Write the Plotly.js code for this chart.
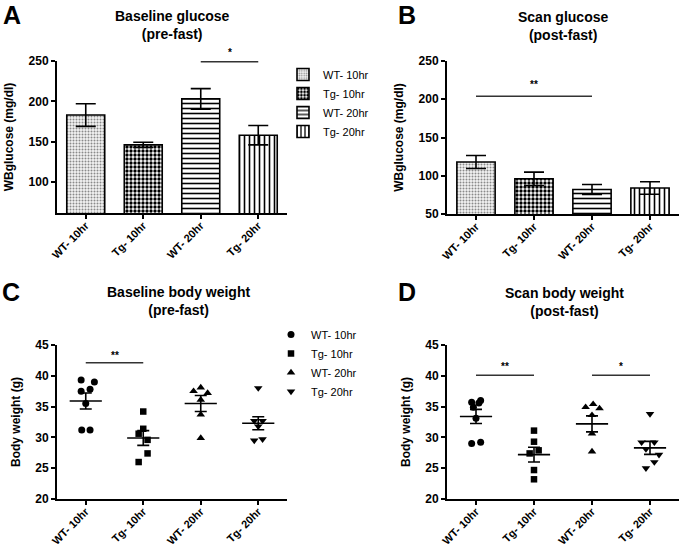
<!DOCTYPE html>
<html>
<head>
<meta charset="utf-8">
<script src="https://cdn.plot.ly/plotly-3.0.1.min.js"></script>
<style>html,body{margin:0;padding:0;background:#fff;}#chart{width:680px;height:547px;}</style>
</head>
<body>
<div id="chart"></div>
<script>
// ---------- DATA ----------
const groups = ['WT- 10hr', 'Tg- 10hr', 'WT- 20hr', 'Tg- 20hr'];

// Panel A: Baseline glucose (pre-fast), mean and SEM
const glucoseBaseMean = [183, 146, 203, 158];
const glucoseBaseSem  = [14, 3.3, 12.8, 12];
// Panel B: Scan glucose (post-fast)
const glucoseScanMean = [118, 96, 82, 84];
const glucoseScanSem  = [8.5, 8.7, 6.5, 8.2];

// Panel C: Baseline body weight (pre-fast), individual animals
const bwBaseWT10 = [39.3, 39.0, 37.8, 37.5, 35.5, 31.2, 31.2];
const bwBaseTg10 = [34.2, 31.4, 30.6, 29.6, 27.4, 26.0];
const bwBaseWT20 = [37.5, 38.1, 37.2, 36.1, 33.7, 29.9];
const bwBaseTg20 = [38.0, 32.7, 32.7, 31.8, 29.5, 29.7];
const bwBaseMean = [35.9, 29.9, 35.5, 32.3];
const bwBaseSem  = [1.3, 1.2, 1.3, 1.05];

// Panel D: Scan body weight (post-fast)
const bwScanWT10 = [35.7, 36.0, 34.9, 35.6, 33.1, 29.0, 29.2];
const bwScanTg10 = [31.1, 29.3, 27.9, 27.4, 24.7, 23.2];
const bwScanWT20 = [34.9, 35.4, 34.7, 33.6, 30.6, 27.7];
const bwScanTg20 = [33.8, 29.2, 29.2, 28.1, 27.2, 26.0, 25.0];
const bwScanMean = [33.4, 27.2, 32.2, 28.3];
const bwScanSem  = [1.15, 1.2, 1.3, 1.05];

// Horizontal scatter spread of the points (category units), as seen in the picture
const spreadBaseWT10 = [-0.08, 0.15, 0.075, -0.08, 0, -0.07, 0.075];
const spreadBaseTg10 = [0, 0, -0.08, 0.075, 0.075, -0.08];
const spreadBaseWT20 = [-0.125, 0, 0.12, 0, 0, 0];
const spreadBaseTg20 = [0, -0.07, 0.075, 0, -0.07, 0.075];
const spreadScanWT10 = [-0.075, 0.08, -0.045, 0.05, 0, -0.075, 0.08];
const spreadScanTg10 = [0, 0, 0.08, -0.075, 0, 0];
const spreadScanWT20 = [-0.11, 0.02, 0.13, 0, 0, 0];
const spreadScanTg20 = [0, -0.145, 0.075, -0.07, 0.155, 0.075, -0.07];

// Significance brackets: [fromGroup, toGroup, yValue, label]
const sigA = [[2, 3, 249, '*']];
const sigB = [[0, 2, 204, '**']];
const sigC = [[0, 1, 42.1, '**']];
const sigD = [[0, 1, 40.1, '**'], [2, 3, 40.1, '*']];

// ---------- STYLE ----------
const FONT = 'Liberation Sans, Arial, Helvetica, sans-serif';
const patterns = [
  {shape: '.', fgcolor: '#8a8a8a', bgcolor: '#f4f4f4', size: 3, solidity: 0.35},
  {shape: '.', fgcolor: '#000000', bgcolor: '#ffffff', size: 4, solidity: 0.55},
  {shape: '-', fgcolor: '#000000', bgcolor: '#ffffff', size: 5, solidity: 0.32},
  {shape: '|', fgcolor: '#000000', bgcolor: '#ffffff', size: 5, solidity: 0.32}
];
const symbols = ['circle', 'square', 'triangle-up', 'triangle-down'];
const symSizes = [7, 6.5, 7.5, 7.5];
const idx = groups.map((g, i) => i);

const traces = [];

function barPanel(means, sems, xa, ya, legendName) {
  idx.forEach(i => {
    traces.push({
      type: 'bar', x: [i], y: [means[i]], width: 0.66,
      name: groups[i], legend: legendName || 'legend',
      showlegend: !!legendName,
      xaxis: xa, yaxis: ya,
      marker: {color: '#ffffff', pattern: patterns[i], line: {color: '#000', width: 1.6}},
      error_y: {type: 'data', array: [sems[i]], visible: true, color: '#000', thickness: 1.6, width: 10},
      hoverinfo: 'skip'
    });
  });
}

function dotPanel(series, spreads, means, sems, xa, ya, legendName) {
  series.forEach((vals, i) => {
    traces.push({
      type: 'scatter', mode: 'markers',
      x: vals.map((v, k) => i + spreads[i][k]), y: vals,
      name: groups[i], legend: legendName || 'legend2', showlegend: !!legendName,
      xaxis: xa, yaxis: ya,
      marker: {symbol: symbols[i], size: symSizes[i], color: '#000'},
      hoverinfo: 'skip', cliponaxis: false
    });
  });
  traces.push({
    type: 'scatter', mode: 'markers', x: idx, y: means, showlegend: false,
    xaxis: xa, yaxis: ya,
    marker: {symbol: 'line-ew', size: 23, color: '#000', line: {color: '#000', width: 1.6}},
    error_y: {type: 'data', array: sems, visible: true, color: '#000', thickness: 1.6, width: 6},
    hoverinfo: 'skip'
  });
}

barPanel(glucoseBaseMean, glucoseBaseSem, 'x', 'y', 'legend');
barPanel(glucoseScanMean, glucoseScanSem, 'x2', 'y2', null);
dotPanel([bwBaseWT10, bwBaseTg10, bwBaseWT20, bwBaseTg20],
         [spreadBaseWT10, spreadBaseTg10, spreadBaseWT20, spreadBaseTg20],
         bwBaseMean, bwBaseSem, 'x3', 'y3', 'legend2');
dotPanel([bwScanWT10, bwScanTg10, bwScanWT20, bwScanTg20],
         [spreadScanWT10, spreadScanTg10, spreadScanWT20, spreadScanTg20],
         bwScanMean, bwScanSem, 'x4', 'y4', null);

const W = 680, H = 547;
const px = v => v / W;
const py = v => 1 - v / H;

function xAxis(d0, d1, anchor) {
  return {
    domain: [px(d0), px(d1)], anchor: anchor, range: [-0.5, 3.5],
    tickmode: 'array', tickvals: idx, ticktext: groups, tickangle: -45,
    showline: true, linecolor: '#000', linewidth: 2,
    ticks: 'outside', ticklen: 4, tickwidth: 2, tickcolor: '#000',
    ticklabelstandoff: -4,
    showgrid: false, zeroline: false, fixedrange: true,
    tickfont: {family: FONT, size: 11, color: '#000', weight: 'bold'}
  };
}
function yAxis(d0, d1, anchor, range, vals, title) {
  return {
    domain: [py(d1), py(d0)], anchor: anchor, range: range,
    tickmode: 'array', tickvals: vals,
    showline: true, linecolor: '#000', linewidth: 2,
    ticks: 'outside', ticklen: 4, tickwidth: 2, tickcolor: '#000',
    showgrid: false, zeroline: false, fixedrange: true,
    tickfont: {family: FONT, size: 12, color: '#000', weight: 'bold'},
    title: {text: title, standoff: 12, font: {family: FONT, size: 12, color: '#000', weight: 'bold'}}
  };
}

const shapes = [];
const annotations = [];
function addSig(list, xa, ya, starShift) {
  list.forEach(s => {
    shapes.push({type: 'line', xref: xa, yref: ya, x0: s[0], x1: s[1], y0: s[2], y1: s[2],
                 line: {color: '#333', width: 1.5}});
    annotations.push({xref: xa, yref: ya, x: (s[0] + s[1]) / 2, y: s[2], yshift: starShift, text: s[3],
                      showarrow: false, yanchor: 'middle',
                      font: {family: FONT, size: 10, color: '#000', weight: 'bold'}});
  });
}
addSig(sigA, 'x', 'y', 9);
addSig(sigB, 'x2', 'y2', 12);
addSig(sigC, 'x3', 'y3', 7);
addSig(sigD, 'x4', 'y4', 9);

function label(text, x, y, size) {
  annotations.push({xref: 'paper', yref: 'paper', x: px(x), y: py(y), text: text, showarrow: false,
                    xanchor: 'center', yanchor: 'middle',
                    font: {family: FONT, size: size, color: '#000', weight: 'bold'}});
}
label('A', 12, 15, 25);
label('B', 407, 15, 25);
label('C', 11, 292, 25);
label('D', 407, 292, 25);
label('Baseline glucose<br>(pre-fast)', 172, 25, 14);
label('Scan glucose<br>(post-fast)', 563, 26, 14);
label('Baseline body weight<br>(pre-fast)', 178, 301, 14);
label('Scan body weight<br>(post-fast)', 564, 302, 14);

const layout = {
  width: W, height: H,
  margin: {l: 0, r: 0, t: 0, b: 0},
  paper_bgcolor: '#fff', plot_bgcolor: '#fff',
  font: {family: FONT, color: '#000'},
  barmode: 'overlay',
  xaxis: xAxis(57, 287, 'y'),
  yaxis: yAxis(61, 213, 'x', [61.6, 250], [100, 150, 200, 250], 'WBglucose (mg/dl)'),
  xaxis2: xAxis(447, 679, 'y2'),
  yaxis2: yAxis(61, 214, 'x2', [50, 250], [50, 100, 150, 200, 250], 'WBglucose (mg/dl)'),
  xaxis3: xAxis(57, 287, 'y3'),
  yaxis3: yAxis(345, 499, 'x3', [20, 45], [20, 25, 30, 35, 40, 45], 'Body weight (g)'),
  xaxis4: xAxis(447, 679, 'y4'),
  yaxis4: yAxis(345, 499, 'x4', [20, 45], [20, 25, 30, 35, 40, 45], 'Body weight (g)'),
  legend: {x: px(283), y: py(60), xanchor: 'left', yanchor: 'top', bgcolor: 'rgba(0,0,0,0)',
           font: {family: FONT, size: 11, color: '#000'}, tracegroupgap: 0, itemwidth: 30},
  legend2: {x: px(271), y: py(320), xanchor: 'left', yanchor: 'top', bgcolor: 'rgba(0,0,0,0)',
           font: {family: FONT, size: 11, color: '#000'}, tracegroupgap: 0, itemwidth: 30},
  shapes: shapes,
  annotations: annotations,
  showlegend: true
};

Plotly.newPlot('chart', traces, layout, {staticPlot: true, displayModeBar: false});
</script>
</body>
</html>
